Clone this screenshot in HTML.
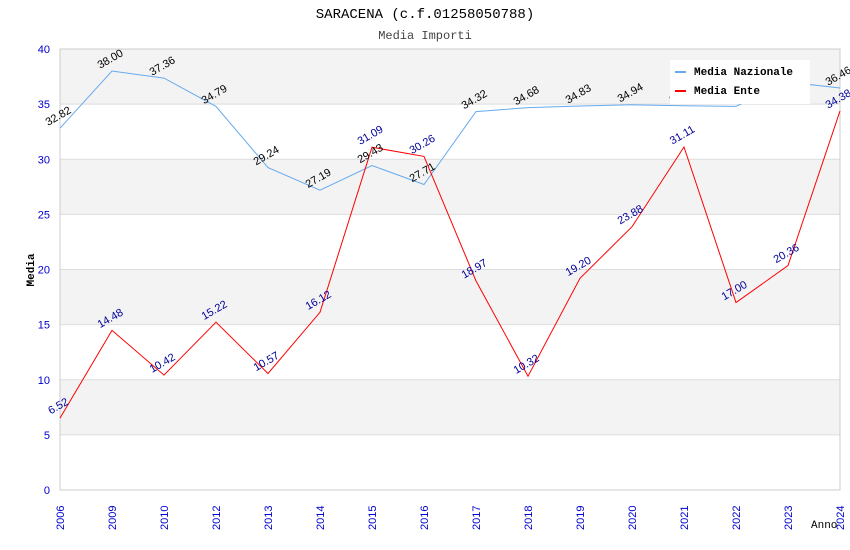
<!DOCTYPE html>
<html><head><meta charset="utf-8"><style>
body{margin:0;background:#fff;}
svg{display:block;font-family:"Liberation Sans",sans-serif;}
</style></head><body>
<svg id="chart" width="850" height="550">
<text x="425" y="18" text-anchor="middle" font-family="Liberation Mono,monospace" font-size="14" fill="#000">SARACENA (c.f.01258050788)</text>
<text x="425" y="39" text-anchor="middle" font-family="Liberation Mono,monospace" font-size="12" fill="#444">Media Importi</text>
<g id="grid"></g><g id="axes"></g><g id="series"></g><g id="labels"></g>
<text x="0" y="0" transform="translate(34,270) rotate(-90)" text-anchor="middle" font-family="Liberation Mono,monospace" font-size="11" font-weight="bold">Media</text>
<text x="811" y="528" font-family="Liberation Mono,monospace" font-size="11">Anno</text>
<g id="legend">
<rect x="670" y="60" width="140" height="44" fill="#fff"/>
<line x1="675" y1="72" x2="686" y2="72" stroke="#66aaee" stroke-width="2"/>
<text x="694" y="75" font-family="Liberation Mono,monospace" font-size="11" font-weight="bold">Media Nazionale</text>
<line x1="675" y1="91" x2="686" y2="91" stroke="#ff0000" stroke-width="2"/>
<text x="694" y="94" font-family="Liberation Mono,monospace" font-size="11" font-weight="bold">Media Ente</text>
</g>
</svg>
<script>
const categories=["2006","2009","2010","2012","2013","2014","2015","2016","2017","2018","2019","2020","2021","2022","2023","2024"];
const nazionale=[32.82,38.00,37.36,34.79,29.24,27.19,29.43,27.71,34.32,34.68,34.83,34.94,34.85,34.80,37.00,36.46];
const ente=[6.52,14.48,10.42,15.22,10.57,16.12,31.09,30.26,18.97,10.32,19.20,23.88,31.11,17.00,20.36,34.38];
const yTicks=[0,5,10,15,20,25,30,35,40];
const NS="http://www.w3.org/2000/svg";
const L=60,R=840,T=49,B=490,yMax=40;
const x=i=>L+i*(R-L)/(categories.length-1);
const y=v=>B-v*(B-T)/yMax;
function mk(tag,attrs,parent){const e=document.createElementNS(NS,tag);for(const k in attrs)e.setAttribute(k,attrs[k]);parent.appendChild(e);return e;}
const grid=document.getElementById('grid'),axes=document.getElementById('axes'),ser=document.getElementById('series'),lab=document.getElementById('labels');
for(let i=0;i<yTicks.length-1;i++){
  if(i%2===1){const r=mk('rect',{x:L,y:y(yTicks[i+1]),width:R-L,height:y(yTicks[i])-y(yTicks[i+1]),fill:'#f3f3f3'},grid);
  
  }
}
yTicks.forEach(t=>{
  const g=mk('line',{x1:L,x2:R,y1:y(t),y2:y(t),stroke:'#dddddd'},grid);
  
  
  const tx=mk('text',{x:L-10,y:y(t)+4,'text-anchor':'end','font-size':11,fill:'#0000cc'},axes);
  tx.textContent=t;
  
  
});
mk('rect',{x:L,y:T,width:R-L,height:B-T,fill:'none',stroke:'#cccccc'},axes);
categories.forEach((c,i)=>{
  const tx=mk('text',{transform:`translate(${x(i)+4},${B+40}) rotate(-90)`,'font-size':11,fill:'#0000cc'},axes);
  tx.textContent=c;
  
  
});
function series(vals,color,lc,name){
  const p=mk('polyline',{points:vals.map((v,i)=>x(i)+','+y(v)).join(' '),fill:'none',stroke:color,'stroke-width':1},ser);
  
  
  vals.forEach((v,i)=>{
    const t=mk('text',{transform:`translate(${x(i)},${y(v)-9}) rotate(-30)`,'text-anchor':'middle','font-size':11,fill:lc},lab);
    t.textContent=v.toFixed(2);
    
    
  });
}
series(nazionale,'#66aaee','#000','nazionale');
series(ente,'#ff0000','#000099','ente');
document.getElementById('chart').appendChild(document.getElementById('legend'));
</script>
</body></html>
